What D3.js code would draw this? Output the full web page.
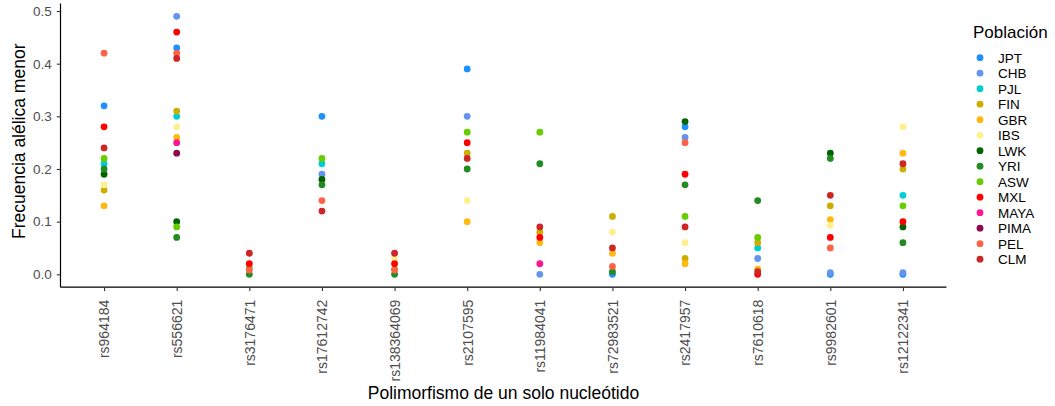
<!DOCTYPE html>
<html lang="es">
<head>
<meta charset="utf-8">
<title>Frecuencia alélica menor por SNP</title>
<script src="https://cdn.jsdelivr.net/npm/d3@7"></script>
<style>
  body { margin: 0; background: #fff; }
  text { font-family: "Liberation Sans", Arial, sans-serif; }
</style>
</head>
<body>
<script>
// SNPs on the x axis
var snps = ["rs964184","rs556621","rs3176471","rs17612742","rs138364069","rs2107595",
            "rs11984041","rs72983521","rs2417957","rs7610618","rs9982601","rs12122341"];

var populations = ["JPT","CHB","PJL","FIN","GBR","IBS","LWK","YRI","ASW","MXL","MAYA","PIMA","PEL","CLM"];
var popColors = ["#1E90FF","#6495ED","#00CED1","#CDAD00","#FFB90F","#FFF08F","#006400","#228B22",
                 "#66CD00","#FF0000","#FF1493","#8B0A50","#FF6347","#CD2626"];

// minor allele frequency per population, one value per snp (null = not visible / no data)
var JPT  = [0.32, 0.43, null, 0.30, null, 0.39, null, 0.00, 0.28, null, 0.00, 0.00];
var CHB  = [null, 0.49, null, 0.19, null, 0.30, 0.00, null, 0.26, 0.03, 0.003, 0.003];
var PJL  = [0.21, 0.30, null, 0.21, null, null, null, null, null, 0.05, null, 0.15];
var FIN  = [0.16, 0.31, null, null, null, 0.23, 0.08, 0.11, 0.03, 0.06, 0.13, 0.20];
var GBR  = [0.13, 0.26, null, null, null, 0.10, 0.06, 0.04, 0.02, 0.01, 0.104, 0.23];
var IBS  = [0.17, 0.28, null, null, 0.03, 0.14, null, 0.08, 0.06, null, 0.093, 0.28];
var LWK  = [0.19, 0.10, null, 0.18, null, null, null, null, 0.29, null, 0.23, 0.09];
var YRI  = [0.20, 0.07, 0.00, 0.17, 0.00, 0.20, 0.21, 0.005, 0.17, 0.14, 0.22, 0.06];
var ASW  = [0.22, 0.09, 0.012, 0.22, 0.01, 0.27, 0.27, null, 0.11, 0.07, null, 0.13];
var MXL  = [0.28, 0.46, 0.02, null, 0.02, 0.25, 0.07, null, 0.19, 0.00, 0.07, 0.10];
var MAYA = [null, 0.25, null, null, null, null, 0.02, null, null, null, null, null];
var PIMA = [null, 0.23, null, null, null, null, null, null, null, null, null, null];
var PEL  = [0.42, 0.42, 0.008, 0.14, 0.008, null, null, 0.015, 0.25, null, 0.05, null];
var CLM  = [0.24, 0.41, 0.04, 0.12, 0.04, 0.22, 0.09, 0.05, 0.09, 0.005, 0.15, 0.21];

var series = [JPT, CHB, PJL, FIN, GBR, IBS, LWK, YRI, ASW, MXL, MAYA, PIMA, PEL, CLM];
var yTicks = [0, 0.1, 0.2, 0.3, 0.4, 0.5];

var W = 1055, H = 406;
// panel edges (window.top is reserved, so use other names)
var pLeft = 60.5, pRight = 946.5, pTop = 3.4, pBottom = 287.2;

var svg = d3.select("body").append("svg").attr("width", W).attr("height", H);

var x = d3.scalePoint().domain(snps).range([pLeft, pRight]).padding(0.6);
var y = d3.scaleLinear().domain([-0.0245, 0.5145]).range([pBottom, pTop]);

var color = d3.scaleOrdinal().domain(populations).range(popColors);

// points, drawn population by population so later ones sit on top
var pts = [];
series.forEach(function(vals, i) {
  vals.forEach(function(v, j) {
    if (v !== null) pts.push({ pop: populations[i], snp: snps[j], v: v });
  });
});

svg.append("g").selectAll("circle")
  .data(pts)
  .enter()
  .append("circle")
  .attr("cx", function(d) { return x(d.snp); })
  .attr("cy", function(d) { return y(d.v); })
  .attr("r", 3.4)
  .attr("fill", function(d) { return color(d.pop); });

// axes
var gx = svg.append("g").attr("transform", "translate(0," + pBottom + ")")
  .call(d3.axisBottom(x).tickSize(3.7).tickSizeOuter(0));
gx.select(".domain").attr("d", "M" + pLeft + ",0H" + pRight).attr("stroke", "#000").attr("stroke-width", 1.2);
gx.selectAll(".tick line").attr("stroke", "#333").attr("stroke-width", 1.1);
gx.selectAll(".tick text")
  .attr("transform", "rotate(-90)")
  .attr("text-anchor", "end")
  .attr("x", -12.5)
  .attr("y", 0)
  .attr("dy", "0.35em")
  .attr("fill", "#4d4d4d")
  .style("font-size", "14px")
  .style("font-family", "Liberation Sans, Arial, sans-serif");

var gy = svg.append("g").attr("transform", "translate(" + pLeft + ",0)")
  .call(d3.axisLeft(y).tickValues(yTicks).tickFormat(d3.format(".1f")).tickSize(3.7).tickSizeOuter(0));
gy.select(".domain").attr("d", "M0," + pTop + "V" + pBottom).attr("stroke", "#000").attr("stroke-width", 1.2);
gy.selectAll(".tick line").attr("stroke", "#333").attr("stroke-width", 1.1);
gy.selectAll(".tick text")
  .attr("x", -8.8)
  .attr("fill", "#4d4d4d")
  .style("font-size", "13.5px")
  .style("font-family", "Liberation Sans, Arial, sans-serif");

// axis titles
svg.append("text")
  .attr("x", (pLeft + pRight) / 2).attr("y", 399)
  .attr("text-anchor", "middle")
  .style("font-size", "17.5px")
  .text("Polimorfismo de un solo nucleótido");

svg.append("text")
  .attr("transform", "translate(24.5," + ((pTop + pBottom) / 2 - 4) + ") rotate(-90)")
  .attr("text-anchor", "middle")
  .style("font-size", "17.5px")
  .text("Frecuencia alélica menor");

// legend
var lg = svg.append("g");
lg.append("text").attr("x", 973).attr("y", 38.3).style("font-size", "17px").text("Población");

var item = lg.selectAll(".item")
  .data(populations)
  .enter()
  .append("g")
  .attr("transform", function(d, i) { return "translate(980," + (57.7 + i * 15.5) + ")"; });

item.append("circle").attr("r", 3.4).attr("fill", function(d) { return color(d); });
item.append("text")
  .attr("x", 18).attr("dy", "0.36em")
  .style("font-size", "13.5px")
  .text(function(d) { return d; });
</script>
</body>
</html>
